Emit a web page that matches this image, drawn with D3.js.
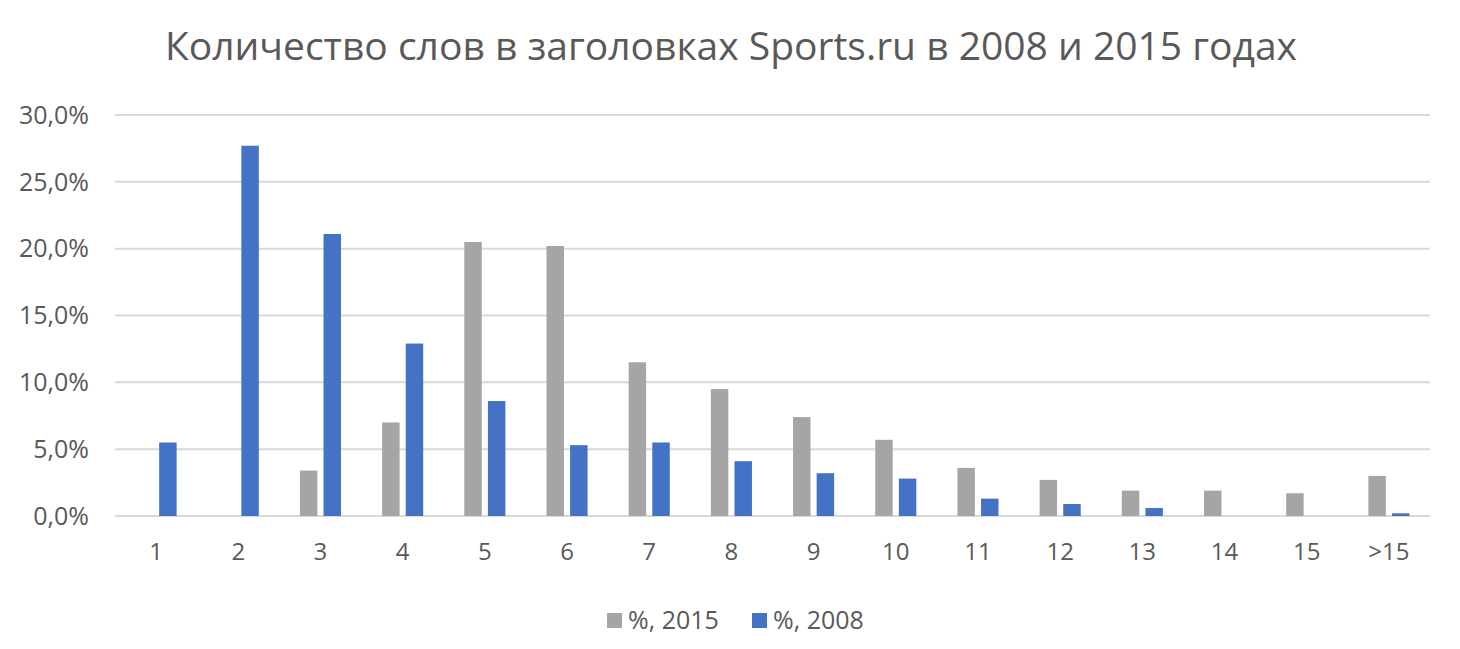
<!DOCTYPE html>
<html>
<head>
<meta charset="utf-8">
<script src="https://cdn.jsdelivr.net/npm/d3@7"></script>
<style>
  html, body { margin: 0; padding: 0; background: #fff; }
  svg text { font-family: "Open Sans", "Noto Sans", sans-serif; fill: #595959; }
</style>
</head>
<body>
<div id="chart"></div>
<script>
const categories = ['1', '2', '3', '4', '5', '6', '7', '8', '9', '10', '11', '12', '13', '14', '15', '>15'];
const seriesNames = ['%, 2015', '%, 2008'];
const values2015 = [0, 0, 3.4, 7.0, 20.5, 20.2, 11.5, 9.5, 7.4, 5.7, 3.6, 2.7, 1.9, 1.9, 1.7, 3.0];
const values2008 = [5.5, 27.7, 21.1, 12.9, 8.6, 5.3, 5.5, 4.1, 3.2, 2.8, 1.3, 0.9, 0.6, 0, 0, 0.2];
const yTicks = [0, 5, 10, 15, 20, 25, 30];
const colors = ['#a5a5a5', '#4472c4'];

const width = 1460, height = 649;
const margin = { top: 115, right: 30, bottom: 133, left: 115 };

const svg = d3.select('#chart').append('svg')
  .attr('width', width).attr('height', height);

const x0 = d3.scaleBand().domain(categories)
  .range([margin.left, width - margin.right])
  .paddingInner(0.5).paddingOuter(0.25);
const x1 = d3.scaleBand().domain(seriesNames)
  .range([0, x0.bandwidth()])
  .paddingInner(0.26);
const y = d3.scaleLinear().domain([0, 30])
  .range([height - margin.bottom, margin.top]);

// gridlines
svg.append('g').selectAll('line').data(yTicks).join('line')
  .attr('x1', margin.left).attr('x2', width - margin.right)
  .attr('y1', d => y(d)).attr('y2', d => y(d))
  .attr('stroke', '#d9d9d9').attr('stroke-width', 2);

// y axis labels
const fmt = d => d.toFixed(1).replace('.', ',') + '%';
svg.append('g').selectAll('text').data(yTicks).join('text')
  .attr('x', 89).attr('y', d => y(d)).attr('dy', '0.35em')
  .attr('text-anchor', 'end').style('font-size', '25px')
  .text(fmt);

// bars
const rows = categories.map((c, i) => ({ cat: c, vals: [values2015[i], values2008[i]] }));
const groups = svg.append('g').selectAll('g').data(rows).join('g')
  .attr('transform', d => `translate(${x0(d.cat)},0)`);
groups.selectAll('rect')
  .data(d => d.vals.map((v, j) => ({ name: seriesNames[j], v, j })))
  .join('rect')
  .attr('x', d => x1(d.name)).attr('width', x1.bandwidth())
  .attr('y', d => y(d.v)).attr('height', d => y(0) - y(d.v))
  .attr('fill', d => colors[d.j]);

// x labels
svg.append('g').selectAll('text').data(categories).join('text')
  .attr('x', d => x0(d) + x0.bandwidth() / 2).attr('y', 552).attr('dy', '0.35em')
  .attr('text-anchor', 'middle').style('font-size', '24px')
  .text(d => d);

// title
svg.append('text')
  .attr('x', 731).attr('y', 46).attr('dy', '0.35em')
  .attr('text-anchor', 'middle').style('font-size', '39px')
  .text('Количество слов в заголовках Sports.ru в 2008 и 2015 годах');

// legend
const legend = svg.append('g').attr('transform', 'translate(607,620)');
const legendX = [0, 145];
seriesNames.forEach((name, i) => {
  legend.append('rect').attr('x', legendX[i]).attr('y', -7).attr('width', 15).attr('height', 15)
    .attr('fill', colors[i]);
  legend.append('text').attr('x', legendX[i] + 21).attr('y', 0).attr('dy', '0.35em')
    .style('font-size', '25px').text(name);
});
</script>
</body>
</html>
